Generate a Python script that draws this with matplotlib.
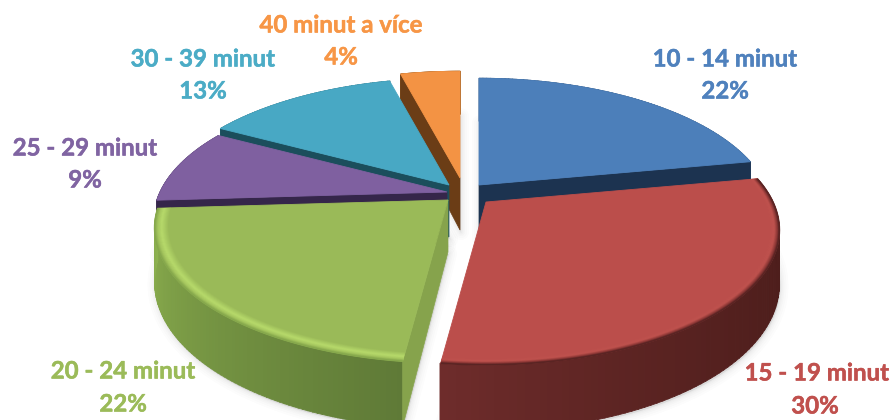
import numpy as np
import matplotlib
matplotlib.use("Agg")
import matplotlib.pyplot as plt
import matplotlib.patheffects as pe
from matplotlib.colors import to_rgb
from matplotlib.patches import Polygon

# Commute-time shares, in drawing order clockwise from twelve o'clock
categories = ["10 - 14 minut", "15 - 19 minut", "20 - 24 minut",
              "25 - 29 minut", "30 - 39 minut", "40 minut a více"]
shares = [22, 30, 22, 9, 13, 4]

# Styling per slice
top_colors = ["#4c7fba", "#bb4e4b", "#9aba58", "#7f60a0", "#48a8c4", "#f39344"]
text_colors = ["#4f81bd", "#c0504d", "#9bbb59", "#8064a2", "#4bacc6", "#f79646"]
cut_colors = ["#1c3350", None, "#86a34c", "#35264a", "#1b4e5c", "#6b3d16"]
side_colors = [("#2c4d74", "#2c4d74"), ("#4c1d1b", "#6e2c2b"), ("#5f7a37", "#8db14f"),
               ("#4c3a62", "#4c3a62"), ("#2b6a7a", "#2b6a7a"), ("#94581f", "#94581f")]
side_gamma = [1, 2.2, 1, 1, 1, 1]
apexes = [(479, 185), (486, 202), (448, 200), (447, 192), (449, 185), (460, 178)]
label_xy = [(725, 59), (817, 373), (123, 371), (85, 148), (203, 59), (341, 25)]
pct_xy = [(725, 91), (815, 406), (123, 404), (85, 180), (203, 91), (341, 57)]
# Rim bevel: radius / colour stops along the outer edge of the top face
bevels = {
    1: [(0.97, "#bb4e4b"), (0.985, "#bf524e"), (0.995, "#8a3634"), (1.0, "#5a2423")],
    2: [(0.955, "#9aba58"), (0.978, "#b7da6b"), (0.99, "#a6c75f"), (1.0, "#86a84c")],
}
# Order in which the slices overlap, back to front
paint_order = [5, 4, 3, 0, 2, 1]

RX, RY, PERSP, DEPTH = 287.0, 129.0, 0.208, 52.0


def project(apex, u, v, down=0.0):
    s = 1.0 / (1.0 + PERSP * v)
    return apex[0] + RX * u * s, apex[1] - RY * v * s + down * s


def rim(apex, th, r=1.0, down=0.0):
    return project(apex, r * np.cos(th), r * np.sin(th), down)


def mix(c1, c2, t):
    a, b = np.array(to_rgb(c1)), np.array(to_rgb(c2))
    return tuple(a + (b - a) * t)


fig = plt.figure(figsize=(8.93, 4.20), dpi=100)
ax = fig.add_axes([0, 0, 1, 1])
ax.set_xlim(0, 893)
ax.set_ylim(420, 0)
ax.axis("off")
plt.rcParams["font.family"] = ["Lato", "DejaVu Sans"]

# Slice boundaries, running clockwise from the top
edges = np.deg2rad(90 - 3.6 * np.concatenate([[0], np.cumsum(shares)]))

# Soft drop shadows sit under everything else
for i in range(len(shares)):
    th = np.linspace(edges[i], edges[i + 1], 120)
    xs, ys = rim(apexes[i], th, 1.0, DEPTH)
    px = np.r_[apexes[i][0], xs]
    py = np.r_[apexes[i][1] + DEPTH, ys]
    for w, a in zip((16, 12, 8, 5, 2.5), (0.014, 0.016, 0.02, 0.024, 0.03)):
        ax.add_patch(Polygon(np.c_[px + 1, py + 2], closed=True, fill=True,
                             fc=(0.3, 0.3, 0.3, a), ec=(0.3, 0.3, 0.3, a),
                             lw=w * 0.72, joinstyle="round", zorder=1))

z = 2
for i in paint_order:
    apex = apexes[i]
    t0, t1 = edges[i], edges[i + 1]

    # Outer wall, shaded in narrow strips
    steps = np.linspace(t0, t1, 90)
    for k in range(len(steps) - 1):
        a, b = steps[k], steps[k + 1] - 0.002
        p = [rim(apex, a), rim(apex, b), rim(apex, b, 1, DEPTH), rim(apex, a, 1, DEPTH)]
        f = (k / (len(steps) - 2)) ** side_gamma[i]
        c = mix(side_colors[i][0], side_colors[i][1], f)
        ax.add_patch(Polygon(p, closed=True, fc=c, ec=c, lw=0.6, zorder=z))

    # Cut face on the side that turns towards the viewer
    if cut_colors[i] is not None:
        edge_th = t1 if i == 0 else t0
        p = [apex, rim(apex, edge_th), rim(apex, edge_th, 1, DEPTH),
             (apex[0], apex[1] + DEPTH)]
        ax.add_patch(Polygon(p, closed=True, fc=cut_colors[i], ec=cut_colors[i],
                             lw=0.5, zorder=z + 0.1))

    # Top face
    th = np.linspace(t0, t1, 200)
    xs, ys = rim(apex, th)
    ax.add_patch(Polygon(np.c_[np.r_[apex[0], xs], np.r_[apex[1], ys]], closed=True,
                         fc=top_colors[i], ec=top_colors[i], lw=0.6, zorder=z + 0.2))

    # Rounded bevel along the front rim
    if i in bevels:
        stops = bevels[i]
        rs = [s[0] for s in stops]
        for r in np.linspace(rs[0], 1.0, 16):
            j = min(np.searchsorted(rs, r, side="right") - 1, len(stops) - 2)
            f = (r - rs[j]) / (rs[j + 1] - rs[j])
            col = mix(stops[j][1], stops[j + 1][1], f)
            xr, yr = rim(apex, th, r)
            ax.plot(xr, yr, color=col, lw=1.1, solid_capstyle="butt", zorder=z + 0.3)
    z += 1

# Category name above its percentage
halo = 0.35
for i, name in enumerate(categories):
    for xy, s in ((label_xy[i], name), (pct_xy[i], f"{shares[i]}%")):
        t = ax.text(*xy, s, color=text_colors[i], fontsize=17.3, fontweight="bold",
                    ha="center", va="center", zorder=50)
        t.set_path_effects([pe.withStroke(linewidth=halo, foreground=text_colors[i])])

fig.savefig("out.png", dpi=100, facecolor="white")
